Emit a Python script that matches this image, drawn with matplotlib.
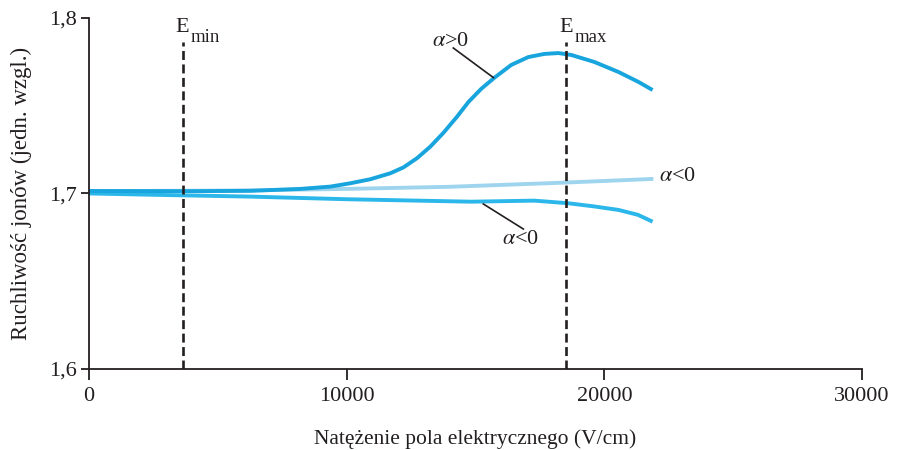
import numpy as np
import matplotlib.pyplot as plt

plt.rcParams['font.family'] = ['Liberation Serif', 'DejaVu Serif']
plt.rcParams['mathtext.fontset'] = 'stix'

# curves (field in V/cm, mobility in rel. units)
x_pos = [0, 4000, 6265, 8210, 9359, 10136, 10913, 11689, 12206, 12726, 13243, 13759, 14280,
         14730, 15220, 15720, 16381, 17043, 17665, 18210, 18716, 19611, 20545, 21323, 21868]
y_pos = [1.7013, 1.7012, 1.7014, 1.7025, 1.7038, 1.7057, 1.7080, 1.7114, 1.7148, 1.7200, 1.7266, 1.7346, 1.7437,
         1.7522, 1.7596, 1.7658, 1.7732, 1.7777, 1.7795, 1.7800, 1.7789, 1.7749, 1.7692, 1.7635, 1.7589]

x_neg1 = [0, 6000, 10000, 14000, 18300, 21900]
y_neg1 = [1.7012, 1.7016, 1.7025, 1.7037, 1.7060, 1.7082]

x_neg2 = [0, 3000, 6265, 10000, 14825, 17280, 18600, 19600, 20545, 21300, 21868]
y_neg2 = [1.6999, 1.6990, 1.6981, 1.6966, 1.6952, 1.6958, 1.6943, 1.6925, 1.6905, 1.6877, 1.6838]

e_min = 3650
e_max = 18500

xticks = [0, 10000, 20000, 30000]
yticks = [1.6, 1.7, 1.8]
ytick_labels = ['1,6', '1,7', '1,8']

dark = '#231f20'

fig = plt.figure(figsize=(8.98, 4.5), dpi=100)
ax = fig.add_axes([0.0991, 0.181, 0.861, 0.779])

ax.plot(x_neg1, y_neg1, color='#9fd4ee', lw=2.8, solid_capstyle='butt')
ax.plot(x_neg2, y_neg2, color='#2bb7e9', lw=2.8, solid_capstyle='butt')
ax.plot(x_pos, y_pos, color='#18a5de', lw=2.8, solid_capstyle='butt', solid_joinstyle='round')

# E_min / E_max markers
for xe, sub, xt in [(e_min, 'min', 3350), (e_max, 'max', 18250)]:
    ax.plot([xe, xe], [1.6, 1.7863], color=dark, lw=1.9, dashes=(3.4, 1.7))
    t = ax.text(xt, 1.7945, 'E', ha='left', va='center', fontsize=16, color=dark)
    ax.annotate(sub, xy=(1, 0), xycoords=t, xytext=(1.5, -3.5), textcoords='offset points',
                ha='left', va='baseline', fontsize=13.5, color=dark)

# labels with leader lines
ax.plot([14135, 15690], [1.7829, 1.7660], color=dark, lw=1.2)
ax.text(14020, 1.7865, r'$\alpha$>0', ha='center', va='center', fontsize=16, color=dark)
ax.plot([15300, 16854], [1.6939, 1.6796], color=dark, lw=1.2)
ax.text(16740, 1.6734, r'$\alpha$<0', ha='center', va='center', fontsize=16, color=dark)
ax.text(22130, 1.7093, r'$\alpha$<0', ha='left', va='center', fontsize=16, color=dark)

ax.set_xlim(0, 30000)
ax.set_ylim(1.6, 1.8)
ax.set_xticks(xticks)
ax.set_xticklabels([str(t) for t in xticks])
ax.set_yticks(yticks)
ax.set_yticklabels(ytick_labels)

for s in ['top', 'right']:
    ax.spines[s].set_visible(False)
for s in ['left', 'bottom']:
    ax.spines[s].set_color(dark)
    ax.spines[s].set_linewidth(1.3)
ax.tick_params(axis='x', length=8, width=1.3, color=dark, labelsize=16, labelcolor=dark, pad=5)
ax.tick_params(axis='y', length=6, width=1.3, color=dark, labelsize=16, labelcolor=dark, pad=3)

ax.set_xlabel('Natężenie pola elektrycznego (V/cm)', fontsize=15.5, color=dark, labelpad=17)
ax.set_ylabel('Ruchliwość jonów (jedn. wzgl.)', fontsize=16.5, color=dark, labelpad=12)

fig.savefig('out.png', dpi=100)
